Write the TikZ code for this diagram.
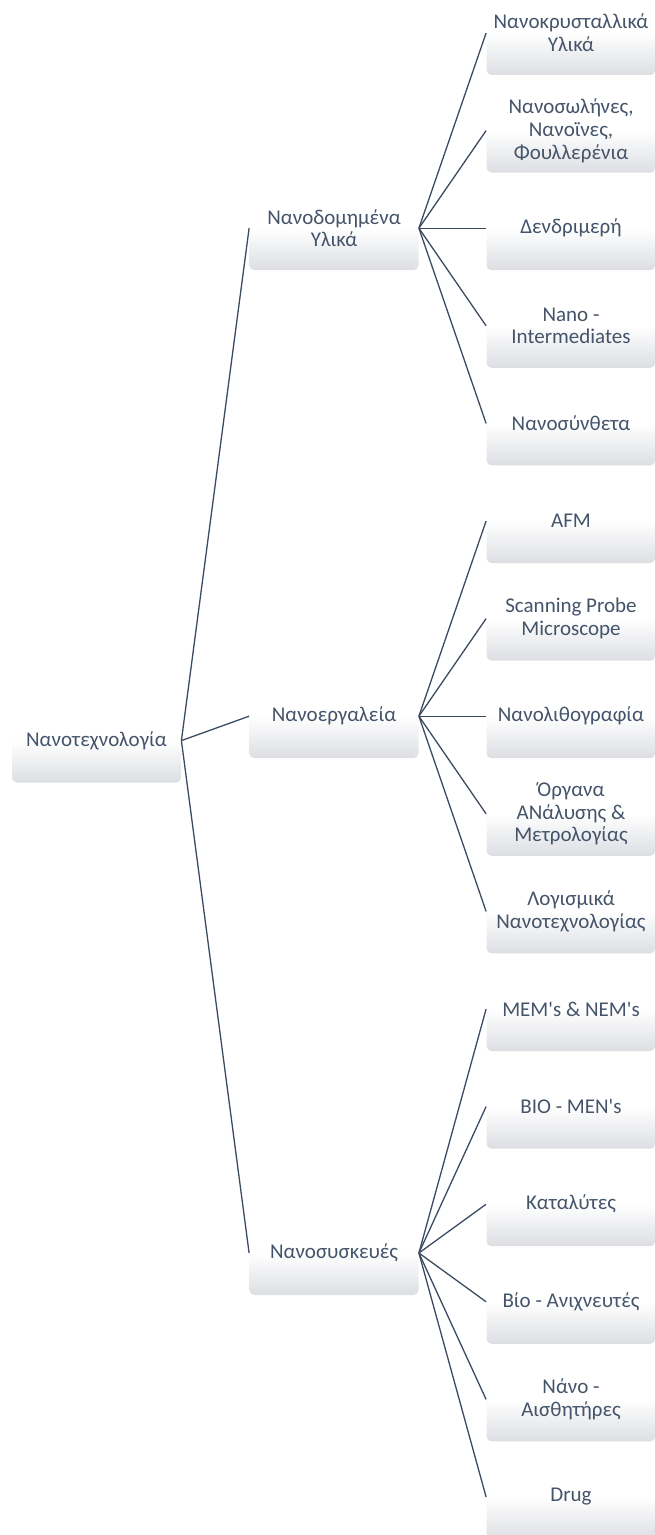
\documentclass[tikz,border=0pt]{standalone}
\usepackage{fontspec}
\setmainfont{Carlito}
\usepackage{xcolor}
\usepackage{tikz}
\definecolor{txt}{HTML}{44546A}
\definecolor{edge}{HTML}{3B4B61}
\definecolor{shade}{HTML}{DCDEE2}
\tikzset{
  box/.style={rounded corners=2.5pt, top color=white, bottom color=shade, middle color=white,
    minimum width=84.5pt, minimum height=42pt, inner sep=1pt, align=center,
    text=txt, font=\fontsize{10.5}{11.4}\selectfont},
  link/.style={draw=edge, line width=0.65pt},
}

\begin{document}
\begin{tikzpicture}[x=0.5pt, y=-0.5pt]
  \useasboundingbox (0,0) rectangle (654,1535);

  % root and first level
  \node[box] (root) at (96.5,740.6) {Νανοτεχνολογία};
  \node[box] (mat) at (334,228.2) {Νανοδομημένα\\Υλικά};
  \node[box] (tools) at (334,716.2) {Νανοεργαλεία};
  \node[box] (dev) at (334,1253) {Νανοσυσκευές};

  % leaves
  \node[box] (cryst) at (571,33) {Νανοκρυσταλλικά\\Υλικά};
  \node[box] (tubes) at (571,130.6) {Νανοσωλήνες,\\Νανοϊνες,\\Φουλλερένια};
  \node[box] (dendr) at (571,228.2) {Δενδριμερή};
  \node[box] (inter) at (571,325.8) {Nano -\\Intermediates};
  \node[box] (compo) at (571,423.4) {Νανοσύνθετα};
  \node[box] (afm) at (571,521) {AFM};
  \node[box] (spm) at (571,618.6) {Scanning Probe\\Microscope};
  \node[box] (litho) at (571,716.2) {Νανολιθογραφία};
  \node[box] (metro) at (571,813.8) {Όργανα\\ΑΝάλυσης \&\\Μετρολογίας};
  \node[box] (soft) at (571,911.4) {Λογισμικά\\Νανοτεχνολογίας};
  \node[box] (mems) at (571,1009) {MEM\textquotesingle s \& NEM\textquotesingle s};
  \node[box] (biomens) at (571,1106.6) {BIO - MEN\textquotesingle s};
  \node[box] (catal) at (571,1204.2) {Καταλύτες};
  \node[box] (biosens) at (571,1301.8) {Βίο - Ανιχνευτές};
  \node[box] (nanosens) at (571,1399.4) {Νάνο -\\Αισθητήρες};
  \node[box] (drug) at (571,1497) {Drug};

  % connectors
  \foreach \c in {mat,tools,dev}
    \draw[link] (root.east) -- (\c.west);
  \foreach \c in {cryst,tubes,dendr,inter,compo}
    \draw[link] (mat.east) -- (\c.west);
  \foreach \c in {afm,spm,litho,metro,soft}
    \draw[link] (tools.east) -- (\c.west);
  \foreach \c in {mems,biomens,catal,biosens,nanosens,drug}
    \draw[link] (dev.east) -- (\c.west);
\end{tikzpicture}
\end{document}
